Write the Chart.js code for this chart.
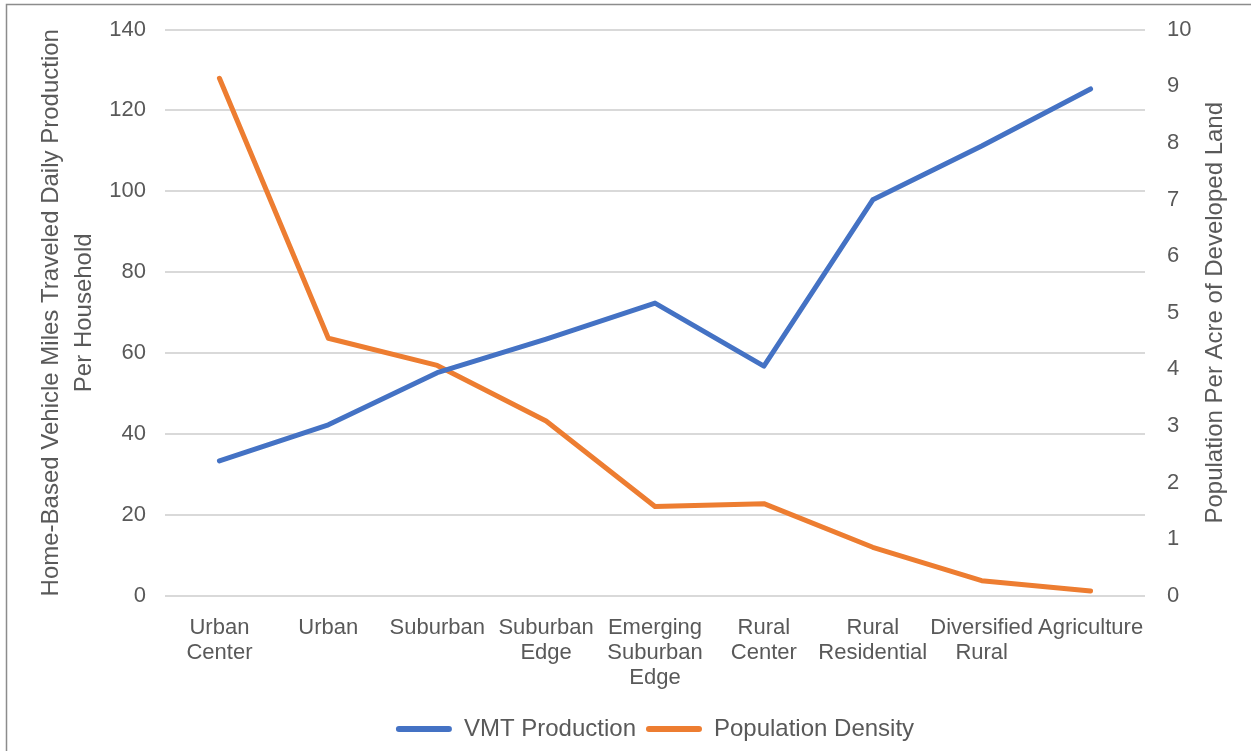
<!DOCTYPE html>
<html>
<head>
<meta charset="utf-8">
<script src="https://cdn.jsdelivr.net/npm/chart.js@4.4.1/dist/chart.umd.min.js"></script>
<style>
    html, body { margin: 0; padding: 0; background: #fff; overflow: hidden; }
    #wrap { position: relative; width: 1310px; height: 751px; }
</style>
</head>
<body>
<div id="wrap"><canvas id="vmtChart"></canvas></div>
<script>
// ============================================================
// DATA
// ============================================================
const areaTypes = [
    ['Urban', 'Center'],
    'Urban',
    'Suburban',
    ['Suburban', 'Edge'],
    ['Emerging', 'Suburban', 'Edge'],
    ['Rural', 'Center'],
    ['Rural', 'Residential'],
    ['Diversified', 'Rural'],
    'Agriculture'
];
const vmtProduction = [33.4, 42.3, 55.2, 63.5, 72.4, 56.8, 97.9, 111.2, 125.3];
const popDensity = [9.14, 4.55, 4.07, 3.09, 1.58, 1.63, 0.86, 0.27, 0.09];

const leftTitle = ['Home-Based Vehicle Miles Traveled Daily Production', 'Per Household'];
const rightTitle = 'Population Per Acre of Developed Land';

// ============================================================
// STYLE
// ============================================================
const FONT = '"Liberation Sans", Arial, Helvetica, sans-serif';
const TEXT = '#595959';
const GRID = '#d9d9d9';
const BLUE = '#4472C4';
const ORANGE = '#ED7D31';
const NONE = 'rgba(0,0,0,0)';

Chart.defaults.font.family = FONT;
Chart.defaults.font.size = 22;
Chart.defaults.color = TEXT;

// outer frame + right axis title (reads bottom to top)
const extrasPlugin = {
    id: 'extras',
    beforeDraw(chart) {
        const ctx = chart.ctx;
        ctx.save();
        ctx.strokeStyle = '#8c8c8c';
        ctx.lineWidth = 1.5;
        ctx.strokeRect(6.5, 4.5, chart.width - 12, chart.height + 20);
        ctx.restore();
    },
    afterDraw(chart) {
        const ctx = chart.ctx;
        const s = chart.scales.y1;
        const area = chart.chartArea;
        ctx.save();
        ctx.translate(s.left + 70, (area.top + area.bottom) / 2);
        ctx.rotate(-Math.PI / 2);
        ctx.font = '24px ' + FONT;
        ctx.fillStyle = TEXT;
        ctx.textAlign = 'center';
        ctx.textBaseline = 'middle';
        ctx.fillText(rightTitle, 0, 0);
        ctx.restore();
    }
};

// ============================================================
// CHART
// ============================================================
const ctx = document.getElementById('vmtChart');
ctx.width = 1310;
ctx.height = 751;

new Chart(ctx.getContext('2d'), {
    type: 'line',
    data: {
        labels: areaTypes,
        datasets: [
            {
                label: 'VMT Production',
                data: vmtProduction,
                yAxisID: 'y',
                borderColor: BLUE,
                backgroundColor: BLUE,
                borderWidth: 5,
                borderCapStyle: 'round',
                borderJoinStyle: 'round',
                pointRadius: 0,
                tension: 0
            },
            {
                label: 'Population Density',
                data: popDensity,
                yAxisID: 'y1',
                borderColor: ORANGE,
                backgroundColor: ORANGE,
                borderWidth: 5,
                borderCapStyle: 'round',
                borderJoinStyle: 'round',
                pointRadius: 0,
                tension: 0
            }
        ]
    },
    options: {
        responsive: false,
        animation: false,
        layout: { padding: { top: 29.5, left: 0, right: 0, bottom: 0 } },
        plugins: {
            tooltip: { enabled: false },
            legend: {
                position: 'bottom',
                labels: {
                    boxWidth: 56,
                    boxHeight: 6,
                    useBorderRadius: true,
                    borderRadius: 3,
                    padding: 10,
                    color: TEXT,
                    font: { size: 24 },
                    generateLabels(chart) {
                        const items = Chart.defaults.plugins.legend.labels.generateLabels(chart);
                        items.forEach(it => { it.lineWidth = 0; });
                        return items;
                    }
                }
            }
        },
        scales: {
            x: {
                offset: true,
                grid: { display: false },
                border: { display: false },
                ticks: {
                    padding: 11,
                    maxRotation: 0,
                    autoSkip: false,
                    font: { size: 22, lineHeight: 1.14 }
                },
                afterFit(s) { s.height = 111; }
            },
            y: {
                position: 'left',
                min: 0,
                max: 140,
                ticks: { stepSize: 20, padding: 0 },
                // invisible tick marks give the label gap without padding the plot top
                grid: { color: GRID, lineWidth: 2, drawTicks: true, tickLength: 19, tickColor: NONE },
                border: { display: false },
                title: {
                    display: true,
                    text: leftTitle,
                    padding: { top: 34.5, bottom: 0 },
                    font: { size: 24, lineHeight: 1.375 }
                },
                afterFit(s) { s.width = 165; }
            },
            y1: {
                position: 'right',
                min: 0,
                max: 10,
                ticks: { stepSize: 1, padding: 0 },
                grid: { drawOnChartArea: false, drawTicks: true, tickLength: 22, tickColor: NONE },
                border: { display: false },
                afterFit(s) { s.width = 165; }
            }
        }
    },
    plugins: [extrasPlugin]
});
</script>
</body>
</html>
